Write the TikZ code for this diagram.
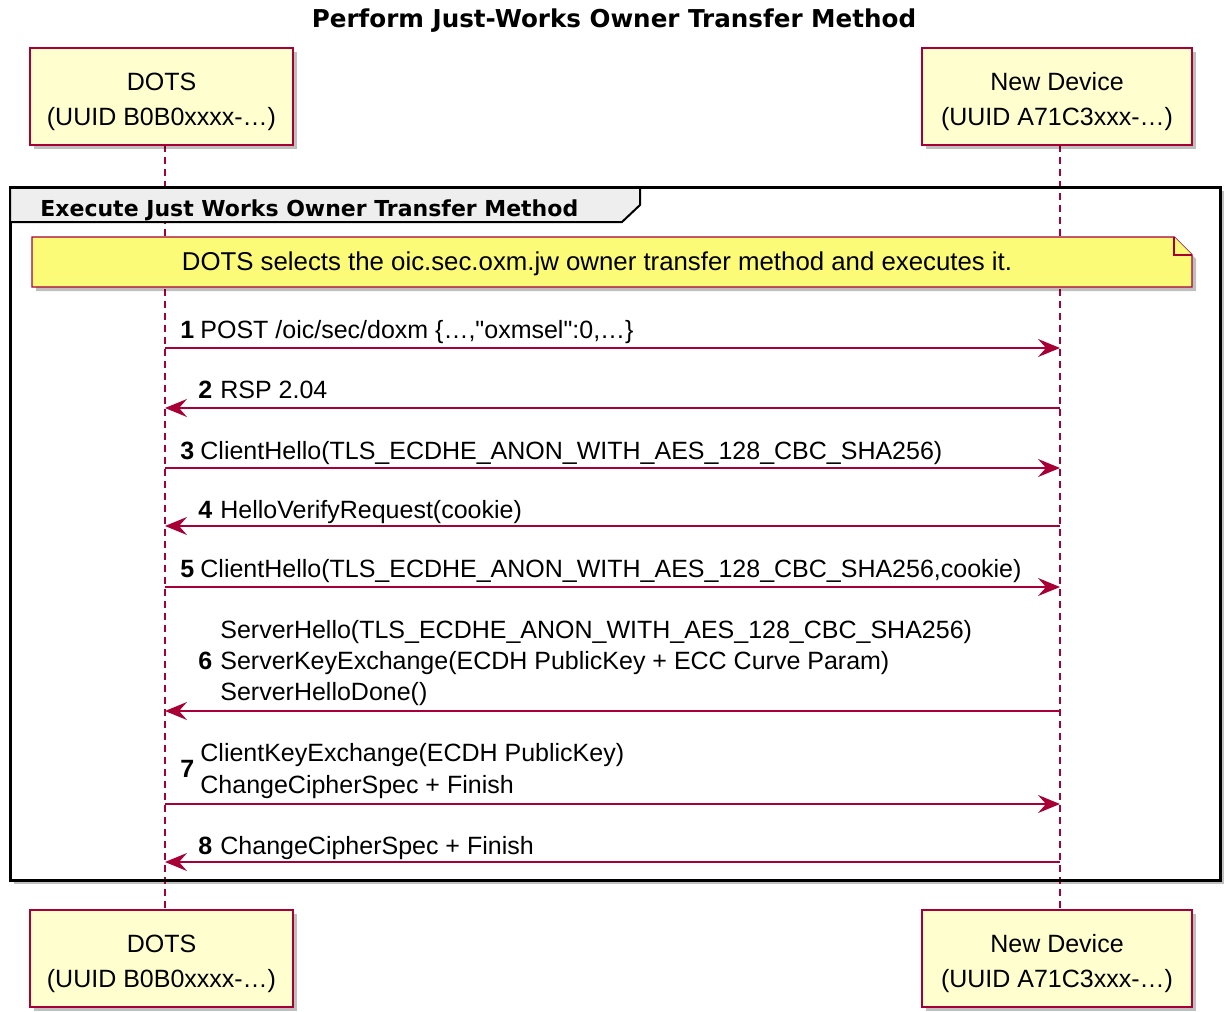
\documentclass[tikz,border=0pt]{standalone}
\usepackage{fontspec}
\setmainfont{Liberation Sans}[Ligatures=TeXOff]
\newfontfamily\headfont{DejaVu Sans}
\usetikzlibrary{arrows.meta}
\usetikzlibrary{shadows}
\definecolor{umlred}{HTML}{A80036}
\definecolor{actorfill}{HTML}{FEFECE}
\definecolor{notefill}{HTML}{FBFB77}
\definecolor{tabfill}{HTML}{EEEEEE}
\newcommand{\topstrut}{\rule{0pt}{14pt}}
\tikzset{
      softshadow/.style={drop shadow={shadow xshift=2pt, shadow yshift=-2pt, fill=black, opacity=0.25}},
      actor/.style={draw=umlred, fill=actorfill, line width=1pt, minimum height=48.5pt,
            align=center, font=\fontsize{12.5}{17.5}\selectfont, softshadow},
      lifeline/.style={draw=umlred, line width=0.7pt, dash pattern=on 3.5pt off 2.5pt},
      msg/.style={draw=umlred, line width=0.8pt, -{Stealth[length=11pt,width=9pt,inset=4pt]}},
      lbl/.style={anchor=base west, inner sep=0pt, font=\fontsize{12.5}{15}\selectfont},
      num/.style={lbl, font=\fontsize{12.5}{15}\selectfont\bfseries},
      frame/.style={draw=black, line width=1.5pt},
      notebox/.style={draw=umlred, fill=notefill, line width=0.7pt},
}

\begin{document}
\begin{tikzpicture}[x=0.5pt,y=-0.5pt]
        \useasboundingbox (0,0) rectangle (1224,1011);

        % Title
        \node[font=\headfont\bfseries\fontsize{12.3}{15}\selectfont] (title) at (614,21) {Perform Just-Works Owner Transfer Method};

        % Group frame (background)
        \fill[white, softshadow] (10,187) rectangle (1220,880);

        % Lifelines
        \coordinate (dotsA) at (165,145);
        \coordinate (dotsB) at (165,910);
        \coordinate (devA) at (1060,145);
        \coordinate (devB) at (1060,910);
        \draw[lifeline] (dotsA) -- (dotsB);
        \draw[lifeline] (devA) -- (devB);

        % Group frame and its tab
        \draw[frame] (10,187) rectangle (1220,880);
        \draw[frame, line width=1pt, fill=tabfill] (10,187) -- (640,187) -- (640,205) -- (622,222) -- (10,222) -- cycle;
        \draw[frame] (10,187) -- (640,187);
        \node[anchor=base west, inner sep=0pt, font=\headfont\bfseries\fontsize{11}{13}\selectfont] (group) at (40,216) {Execute Just Works Owner Transfer Method};

        % Participants
        \node[actor, minimum width=131.5pt] (dotsTop) at (161.5,96.5) {\topstrut DOTS\\(UUID B0B0xxxx-…)};
        \node[actor, minimum width=135pt] (devTop) at (1057,96.5) {\topstrut New Device\\(UUID A71C3xxx-…)};
        \node[actor, minimum width=131.5pt] (dotsBot) at (161.5,958.5) {\topstrut DOTS\\(UUID B0B0xxxx-…)};
        \node[actor, minimum width=135pt] (devBot) at (1057,958.5) {\topstrut New Device\\(UUID A71C3xxx-…)};

        % Note
        \draw[notebox, softshadow] (32,237) -- (1174,237) -- (1192,255) -- (1192,287) -- (32,287) -- cycle;
        \draw[notebox] (1174,237) -- (1174,255) -- (1192,255);
        \node[font=\fontsize{12.9}{15}\selectfont] (note) at (597,264) {DOTS selects the oic.sec.oxm.jw owner transfer method and executes it.};

        % Messages
        \node[num] (n1) at (180,338) {1};
        \node[lbl] (m1) at (200,338) {POST /oic/sec/doxm \{…,"oxmsel":0,…\}};
        \draw[msg] (dotsA |- 0,348) -- (devA |- 0,348);

        \node[num] (n2) at (198,398) {2};
        \node[lbl] (m2) at (220,398) {RSP 2.04};
        \draw[msg] (devA |- 0,408) -- (dotsA |- 0,408);

        \node[num] (n3) at (180,459) {3};
        \node[lbl] (m3) at (200,459) {ClientHello(TLS\_ECDHE\_ANON\_WITH\_AES\_128\_CBC\_SHA256)};
        \draw[msg] (dotsA |- 0,468) -- (devA |- 0,468);

        \node[num] (n4) at (198,518) {4};
        \node[lbl] (m4) at (220,518) {HelloVerifyRequest(cookie)};
        \draw[msg] (devA |- 0,526) -- (dotsA |- 0,526);

        \node[num] (n5) at (180,577) {5};
        \node[lbl] (m5) at (200,577) {ClientHello(TLS\_ECDHE\_ANON\_WITH\_AES\_128\_CBC\_SHA256,cookie)};
        \draw[msg] (dotsA |- 0,587) -- (devA |- 0,587);

        \node[num] (n6) at (198,669) {6};
        \node[lbl] (m6a) at (220,638) {ServerHello(TLS\_ECDHE\_ANON\_WITH\_AES\_128\_CBC\_SHA256)};
        \node[lbl] (m6b) at (220,669) {ServerKeyExchange(ECDH PublicKey + ECC Curve Param)};
        \node[lbl] (m6c) at (220,700) {ServerHelloDone()};
        \draw[msg] (devA |- 0,711) -- (dotsA |- 0,711);

        \node[num] (n7) at (180,777) {7};
        \node[lbl] (m7a) at (200,761) {ClientKeyExchange(ECDH PublicKey)};
        \node[lbl] (m7b) at (200,793) {ChangeCipherSpec + Finish};
        \draw[msg] (dotsA |- 0,804) -- (devA |- 0,804);

        \node[num] (n8) at (198,854) {8};
        \node[lbl] (m8) at (220,854) {ChangeCipherSpec + Finish};
        \draw[msg] (devA |- 0,862) -- (dotsA |- 0,862);

    \end{tikzpicture}
\end{document}
